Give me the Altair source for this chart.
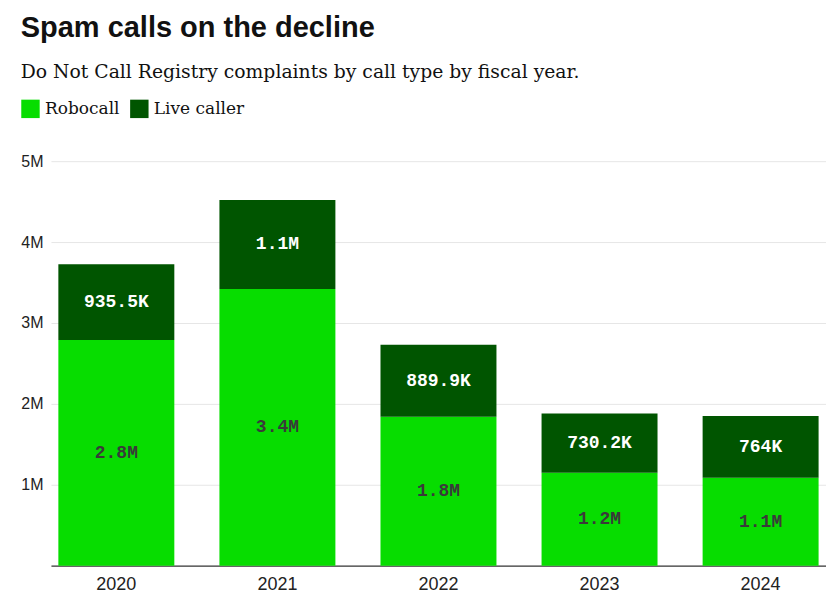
import altair as alt
import pandas as pd

years = ["2020", "2021", "2022", "2023", "2024"]
robocall = [2.79e6, 3.42e6, 1.84e6, 1.15e6, 1.086e6]
live = [935.5e3, 1.10e6, 889.9e3, 730.2e3, 764e3]
robocall_labels = ["2.8M", "3.4M", "1.8M", "1.2M", "1.1M"]
live_labels = ["935.5K", "1.1M", "889.9K", "730.2K", "764K"]
types = ["Robocall", "Live caller"]
colors = ["#07DD00", "#005500"]
y_ticks = [1e6, 2e6, 3e6, 4e6, 5e6]

rows = []
for i, yr in enumerate(years):
    r, l = robocall[i], live[i]
    rows.append({"year": yr, "type": types[0], "y0": 0, "y1": r, "mid": r / 2, "label": robocall_labels[i]})
    rows.append({"year": yr, "type": types[1], "y0": r, "y1": r + l, "mid": r + l / 2, "label": live_labels[i]})
df = pd.DataFrame(rows)

x = alt.X("year:N", title=None, sort=years,
          scale=alt.Scale(paddingInner=0.28, paddingOuter=0.046),
          axis=alt.Axis(labelAngle=0, labelFont="Liberation Sans", labelFontSize=18,
                        labelColor="#222", ticks=False, domainColor="#333", domainWidth=1.2,
                        labelPadding=10))
y_scale = alt.Scale(domain=[0, 5e6], nice=False)

bars = alt.Chart(df).mark_bar().encode(
    x=x,
    y=alt.Y("y0:Q", scale=y_scale, title=None,
            axis=alt.Axis(values=y_ticks, labelExpr="datum.value / 1000000 + 'M'",
                          labelFont="Liberation Sans", labelFontSize=16, labelColor="#222",
                          ticks=False, domain=False, gridColor="#e6e6e6", labelPadding=8)),
    y2="y1:Q",
    color=alt.Color("type:N", scale=alt.Scale(domain=types, range=colors), sort=types,
                    legend=alt.Legend(title=None, orient="none", direction="horizontal",
                                      legendX=-30, legendY=-62, symbolType="square",
                                      symbolSize=340, symbolStrokeWidth=0, symbolOpacity=1,
                                      labelFont="DejaVu Serif", labelFontSize=17,
                                      labelColor="#111", columnPadding=10, labelOffset=5)),
)

text_robo = alt.Chart(df[df["type"] == types[0]]).mark_text(
    font="Liberation Mono", fontSize=18, fontWeight="bold", color="#3a3a3a"
).encode(x=alt.X("year:N", sort=years), y=alt.Y("mid:Q", scale=y_scale), text="label:N")

text_live = alt.Chart(df[df["type"] == types[1]]).mark_text(
    font="Liberation Mono", fontSize=18, fontWeight="bold", color="#ffffff"
).encode(x=alt.X("year:N", sort=years), y=alt.Y("mid:Q", scale=y_scale), text="label:N")

chart = alt.layer(bars, text_robo, text_live).properties(
    width=776, height=405,
    padding={"left": 12, "top": 5, "right": 0, "bottom": 0},
    background="white",
    title=alt.TitleParams(
        "Spam calls on the decline",
        subtitle="Do Not Call Registry complaints by call type by fiscal year.",
        anchor="start", frame="bounds", font="Liberation Sans", fontSize=29,
        fontWeight="bold", color="#111", subtitleFont="DejaVu Serif",
        subtitleFontSize=18.8, subtitleColor="#111", subtitlePadding=21, offset=17,
    ),
).configure_view(stroke=None)

chart.save("out.html", embed_options={"renderer": "svg", "actions": False})
